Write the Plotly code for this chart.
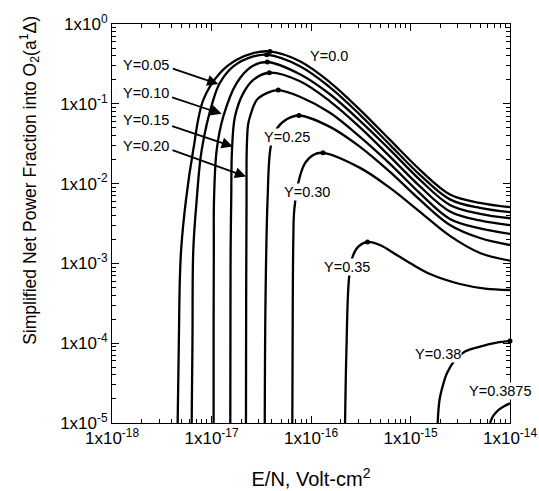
import plotly.graph_objects as go

# Simplified net power fraction into O2(a1Δ) versus E/N for several Y values
y_values = ["0.0", "0.05", "0.10", "0.15", "0.20", "0.25", "0.30", "0.35", "0.38", "0.3875"]

en_000 = [4.57e-18, 4.70e-18, 4.80e-18, 4.95e-18, 5.54e-18, 6.56e-18, 8.27e-18, 1.217e-17, 1.79e-17, 2.63e-17, 3.87e-17,
          7.74e-17, 1.55e-16, 3.11e-16, 6.22e-16, 1.245e-15, 2.49e-15, 4.99e-15, 1e-14]
pf_000 = [1e-5, 1.094e-4, 5.8e-4, 1.47e-3, 6.25e-3, 0.0265, 0.112, 0.243, 0.356, 0.433, 0.453,
          0.341, 0.186, 0.0841, 0.0353, 0.01486, 7.32e-3, 5.73e-3, 5.06e-3]

en_005 = [6.32e-18, 6.44e-18, 6.56e-18, 7.10e-18, 7.97e-18, 1.042e-17, 1.217e-17, 1.656e-17, 2.63e-17, 3.59e-17,
          7.74e-17, 1.55e-16, 3.11e-16, 6.22e-16, 1.245e-15, 2.49e-15, 4.99e-15, 1e-14]
pf_005 = [1e-5, 1.094e-4, 1.47e-3, 6.25e-3, 0.0265, 0.112, 0.1834, 0.294, 0.392, 0.412,
          0.2955, 0.161, 0.0728, 0.0306, 0.01285, 6.34e-3, 4.95e-3, 4.38e-3]

en_010 = [1.05e-17, 1.05e-17, 1.055e-17, 1.06e-17, 1.128e-17, 1.314e-17, 1.79e-17, 2.535e-17, 3.64e-17,
          7.74e-17, 1.55e-16, 3.11e-16, 6.22e-16, 1.245e-15, 2.49e-15, 4.99e-15, 1e-14]
pf_010 = [1e-5, 1.46e-4, 1.47e-3, 6.25e-3, 0.0265, 0.0693, 0.182, 0.294, 0.334,
          0.2345, 0.1316, 0.0612, 0.0265, 0.01112, 5.40e-3, 4.17e-3, 3.68e-3]

en_015 = [1.545e-17, 1.552e-17, 1.557e-17, 1.578e-17, 1.607e-17, 1.722e-17, 2.088e-17, 2.63e-17, 3.81e-17,
          7.74e-17, 1.55e-16, 3.11e-16, 6.22e-16, 1.245e-15, 2.49e-15, 4.99e-15, 1e-14]
pf_015 = [1e-5, 3.48e-4, 1.47e-3, 6.25e-3, 0.0265, 0.0693, 0.136, 0.200, 0.245,
          0.1915, 0.1075, 0.0507, 0.0218, 9.22e-3, 4.48e-3, 3.45e-3, 3.01e-3]

en_020 = [2.22e-17, 2.23e-17, 2.25e-17, 2.26e-17, 2.33e-17, 2.44e-17, 2.85e-17, 3.59e-17, 4.69e-17,
          7.74e-17, 1.55e-16, 3.11e-16, 6.22e-16, 1.245e-15, 2.49e-15, 4.99e-15, 1e-14]
pf_020 = [1e-5, 3.48e-4, 6.25e-3, 0.0265, 0.0545, 0.0693, 0.112, 0.136, 0.1485,
          0.1225, 0.0771, 0.0385, 0.01767, 7.54e-3, 3.61e-3, 2.74e-3, 2.34e-3]

en_025 = [3.43e-17, 3.49e-17, 3.66e-17, 3.94e-17, 4.52e-17, 5.70e-17, 7.57e-17,
          1.55e-16, 3.11e-16, 6.22e-16, 1.245e-15, 2.49e-15, 4.99e-15, 1e-14]
pf_025 = [1e-5, 3.48e-4, 6.25e-3, 0.0291, 0.0486, 0.0639, 0.0713,
          0.0514, 0.0289, 0.01403, 6.25e-3, 3.03e-3, 2.08e-3, 1.70e-3]

en_030 = [6.49e-17, 6.56e-17, 6.64e-17, 6.79e-17, 7.57e-17, 8.71e-17, 1.054e-16, 1.32e-16,
          3.11e-16, 6.22e-16, 1.245e-15, 2.49e-15, 4.99e-15, 1e-14]
pf_030 = [1e-5, 3.48e-4, 1.97e-3, 4.68e-3, 0.01112, 0.01803, 0.0229, 0.0243,
          0.01574, 8.83e-3, 4.42e-3, 2.21e-3, 1.35e-3, 1.081e-3]

en_035 = [2.20e-16, 2.27e-16, 2.41e-16, 2.62e-16, 2.99e-16, 3.70e-16, 4.93e-16, 7.27e-16,
          1.067e-15, 1.57e-15, 3.14e-15, 5.61e-15, 1e-14]
pf_035 = [1e-5, 8.18e-5, 6.50e-4, 1.214e-3, 1.62e-3, 1.86e-3, 1.70e-3, 1.274e-3,
          9.55e-4, 7.36e-4, 5.52e-4, 4.84e-4, 4.64e-4]

en_038 = [1.876e-15, 1.955e-15, 2.12e-15, 2.33e-15, 2.80e-15, 3.53e-15, 4.99e-15, 7.35e-15, 1e-14]
pf_038 = [1e-5, 1.93e-5, 2.98e-5, 4.22e-5, 6.14e-5, 7.85e-5, 9.06e-5, 1.018e-4, 1.062e-4]

en_03875 = [6.30e-15, 6.75e-15, 7.63e-15, 8.71e-15, 1e-14]
pf_03875 = [1e-5, 1.216e-5, 1.45e-5, 1.625e-5, 1.76e-5]

curves = [(en_000, pf_000), (en_005, pf_005), (en_010, pf_010), (en_015, pf_015), (en_020, pf_020),
          (en_025, pf_025), (en_030, pf_030), (en_035, pf_035), (en_038, pf_038), (en_03875, pf_03875)]

# axis ticks: decades and the 2..9 subdivisions
x_decades = [-18, -17, -16, -15, -14]
y_decades = [-5, -4, -3, -2, -1, 0]

FONT = "Liberation Sans, Arial, sans-serif"

fig = go.Figure()
peak_x, peak_y = [], []
for (name, (xs, ys)) in zip(y_values, curves):
    fig.add_trace(go.Scatter(x=xs, y=ys, mode="lines", name="Y=" + name,
                             line=dict(color="black", width=2.3, shape="spline", smoothing=1.0),
                             showlegend=False, hoverinfo="skip"))
    if name != "0.3875":
        i = max(range(len(ys)), key=lambda k: ys[k])
        peak_x.append(xs[i])
        peak_y.append(ys[i])

fig.add_trace(go.Scatter(x=peak_x, y=peak_y, mode="markers",
                         marker=dict(color="black", size=5), showlegend=False,
                         hoverinfo="skip", cliponaxis=False))


def minor_vals(decades):
    return [m * 10.0 ** d for d in decades[:-1] for m in range(2, 10)]


axis_common = dict(
    type="log", showline=True, linecolor="black", linewidth=1, mirror="ticks",
    ticks="inside", ticklen=7, tickwidth=1, tickcolor="black", showgrid=False,
    zeroline=False, automargin=False,
    tickfont=dict(family=FONT, size=17, color="black"),
)

fig.update_xaxes(
    **axis_common,
    range=[-18, -14],
    tickmode="array",
    tickvals=[10.0 ** d for d in x_decades],
    ticktext=["1x10<sup>%d</sup>" % d for d in x_decades],
    minor=dict(tickmode="array", tickvals=minor_vals(x_decades), ticks="inside",
               ticklen=4, tickcolor="black", showgrid=False),
    title=dict(text="E/N, Volt-cm<sup>2</sup>", font=dict(family=FONT, size=20, color="black"),
               standoff=24),
)
fig.update_yaxes(
    **axis_common,
    range=[-5, 0],
    tickmode="array",
    tickvals=[10.0 ** d for d in y_decades],
    ticktext=["1x10<sup>%d</sup>" % d for d in y_decades],
    minor=dict(tickmode="array", tickvals=minor_vals(y_decades), ticks="inside",
               ticklen=4, tickcolor="black", showgrid=False),
)

lab_font = dict(family=FONT, size=14.5, color="black")
annotations = []

# vertical axis title, set a little above the plot's mid-height
annotations.append(dict(text="Simplified Net Power Fraction into O<sub>2</sub>(a<sup>1</sup>Δ)",
                        x=-0.206, y=0.607, xref="paper", yref="paper", textangle=-90,
                        xanchor="center", yanchor="middle", showarrow=False,
                        font=dict(family=FONT, size=17.5, color="black")))

# labels with arrows pointing to their curves
arrow_labels = [
    ("Y=0.05", 0.896, 0.2671, 0.8494, -47, -16),
    ("Y=0.10", 0.827, 0.2756, 0.7748, -51, -17),
    ("Y=0.15", 0.760, 0.3033, 0.6928, -62, -21),
    ("Y=0.20", 0.693, 0.3367, 0.6175, -75, -27),
]
for text, ty, hx, hy, ax, ay in arrow_labels:
    annotations.append(dict(text=text, x=0.022, y=ty, xref="paper", yref="paper",
                            xanchor="left", yanchor="middle", showarrow=False, font=lab_font))
    annotations.append(dict(text="", x=hx, y=hy, xref="paper", yref="paper", showarrow=True,
                            ax=ax, ay=ay, arrowhead=2, arrowsize=1.3, arrowwidth=1.7,
                            arrowcolor="black", standoff=0))

# labels placed on the curves themselves
inline_labels = [
    ("Y=0.0", 0.545, 0.920),
    ("Y=0.25", 0.4397, 0.7171),
    ("Y=0.30", 0.4912, 0.5798),
    ("Y=0.35", 0.5917, 0.3916),
    ("Y=0.38", 0.8199, 0.1719),
    ("Y=0.3875", 0.9769, 0.0801),
]
for text, lx, ly in inline_labels:
    annotations.append(dict(text=text, x=lx, y=ly, xref="paper", yref="paper",
                            xanchor="center", yanchor="middle", showarrow=False,
                            font=lab_font, bgcolor="white", borderpad=0))

fig.update_layout(
    width=539, height=491,
    margin=dict(l=112, r=29, t=24, b=68),
    paper_bgcolor="white", plot_bgcolor="white",
    annotations=annotations,
    font=dict(family=FONT, color="black"),
)

fig.write_html("out.html")
